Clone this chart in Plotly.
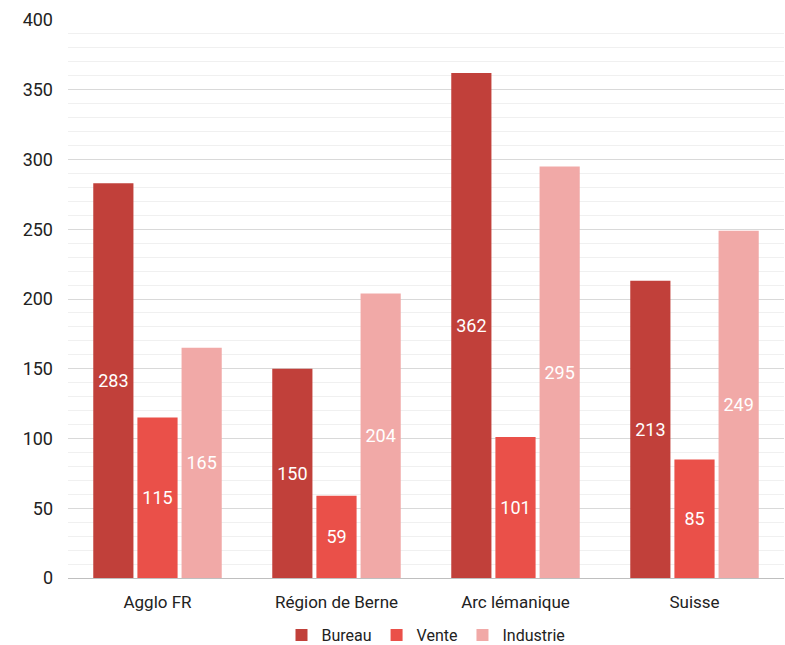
import plotly.graph_objects as go

categories = ["Agglo FR", "Région de Berne", "Arc lémanique", "Suisse"]
series_names = ["Bureau", "Vente", "Industrie"]
bureau = [283, 150, 362, 213]
vente = [115, 59, 101, 85]
industrie = [165, 204, 295, 249]
colors = ["#C1403A", "#EA5049", "#F1A9A7"]

fig = go.Figure()
for name, vals, col in zip(series_names, [bureau, vente, industrie], colors):
    fig.add_trace(go.Bar(
        x=categories, y=vals, name=name,
        marker=dict(color=col, line=dict(width=0)),
        text=[str(v) for v in vals],
        textposition="inside", insidetextanchor="middle",
        textfont=dict(color="white", size=18, family="Roboto"),
        textangle=0,
    ))

fig.update_layout(
    width=785, height=645,
    margin=dict(l=68, r=1, t=20, b=67, autoexpand=False),
    paper_bgcolor="white", plot_bgcolor="white",
    barmode="group", bargap=0.26, bargroupgap=0.09,
    font=dict(family="Roboto", size=17, color="#222222"),
    legend=dict(orientation="h", x=0.5, xanchor="center",
                yref="container", y=10 / 645, yanchor="middle",
                font=dict(size=16), itemwidth=30, traceorder="normal"),
    showlegend=True,
)
fig.update_xaxes(showgrid=False, ticks="", showline=False, tickfont=dict(size=17),
                 ticklabelstandoff=12, automargin=False)
fig.update_yaxes(
    range=[0, 400], dtick=50, showgrid=True, gridcolor="#D9D9D9", gridwidth=1,
    zeroline=True, zerolinecolor="#BFBFBF", zerolinewidth=1,
    minor=dict(dtick=10, showgrid=True, gridcolor="#F0F0F0", gridwidth=1),
    ticks="", tickfont=dict(size=18), ticklabelstandoff=14, automargin=False,
)
fig.write_html("out.html")
